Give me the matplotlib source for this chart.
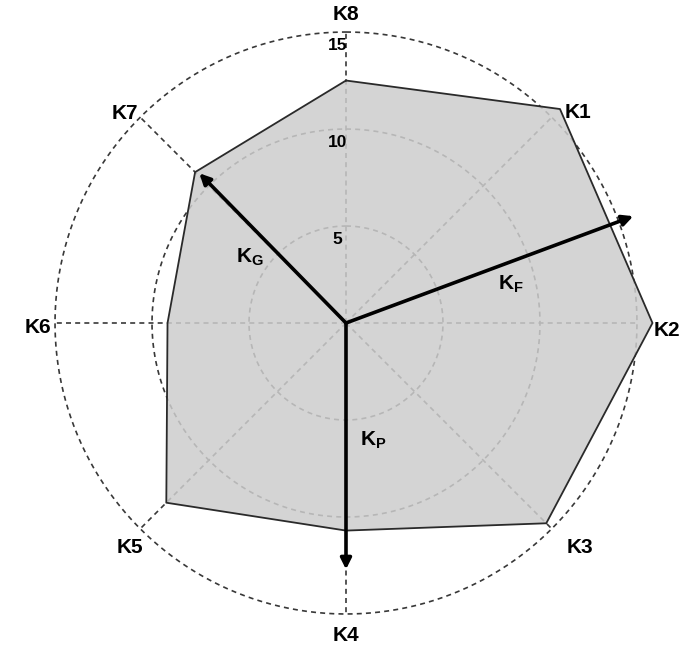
import numpy as np
import matplotlib as mpl
import matplotlib.pyplot as plt

mpl.rcParams['font.family'] = ['Liberation Sans', 'DejaVu Sans']
mpl.rcParams['font.weight'] = 'bold'
mpl.rcParams['mathtext.fontset'] = 'custom'
mpl.rcParams['mathtext.rm'] = 'Liberation Sans:bold'
mpl.rcParams['mathtext.it'] = 'Liberation Sans:bold'
mpl.rcParams['hatch.linewidth'] = 0.5
mpl.rcParams['hatch.color'] = '#a6a6a6'

# criteria around the circle, clockwise from the top
criteria = ['K8', 'K1', 'K2', 'K3', 'K4', 'K5', 'K6', 'K7']
scores = [12.5, 15.6, 15.8, 14.6, 10.7, 13.1, 9.2, 11.0]
rings = [5, 10, 15]

# resultant vectors: name, direction (deg, clockwise from K8), magnitude
vec_names = [r'K$_{\mathrm{F}}$', r'K$_{\mathrm{G}}$', r'K$_{\mathrm{P}}$']
vec_angles = [69.6, 315.6, 180.0]
vec_lengths = [15.8, 10.8, 12.7]
# where each vector name sits (deg, radius)
vec_label_pos = [(76.9, 8.7), (304.5, 6.0), (167.0, 6.2)]

angles = np.deg2rad(np.arange(len(criteria)) * 45.0)

fig = plt.figure(figsize=(6.85, 6.55), dpi=100)
ax = fig.add_axes([0.0803, 0.0626, 0.8496, 0.8885], projection='polar')
ax.set_theta_zero_location('N')
ax.set_theta_direction(-1)
ax.set_ylim(0, 15)
ax.set_axis_off()

grid_style = dict(color='#383838', lw=1.2, ls=(0, (3, 2.5)), zorder=1, clip_on=False)
circ = np.linspace(0, 2 * np.pi, 400)
for r in rings:
    ax.plot(circ, np.full_like(circ, r), **grid_style)
for a in angles:
    ax.plot([a, a], [0, rings[-1]], **grid_style)

# score polygon
poly_t = np.append(angles, angles[0])
poly_r = np.append(scores, scores[0])
ax.fill(poly_t, poly_r, facecolor='#cdcdcd', alpha=0.85, hatch='++++',
        edgecolor='none', zorder=2, clip_on=False)
ax.plot(poly_t, poly_r, color='#2a2a2a', lw=1.3, zorder=3, clip_on=False)

# ring values
for r in rings:
    ax.annotate(str(r), xy=(0, r), xytext=(-6, -10), textcoords='offset points',
                ha='center', va='center', fontsize=12.5, fontweight='bold',
                zorder=5, annotation_clip=False)

# criterion names, nudged (in pixels) off the outer ring
label_nudge = {
    'K8': (0, 18), 'K1': (26, 5), 'K2': (30, -7), 'K3': (28, -19),
    'K4': (0, -22), 'K5': (-10, -19), 'K6': (-17, -4), 'K7': (-15, 4),
}
for name, a in zip(criteria, angles):
    ax.annotate(name, xy=(a, rings[-1]), xytext=label_nudge[name],
                textcoords='offset pixels', ha='center', va='center',
                fontsize=15, fontweight='bold', zorder=5, annotation_clip=False)

# vectors
for name, ang, length, (lt, lr) in zip(vec_names, vec_angles, vec_lengths, vec_label_pos):
    ax.annotate('', xy=(np.deg2rad(ang), length), xytext=(0, 0),
                arrowprops=dict(arrowstyle='-|>', color='black', lw=2.6,
                                mutation_scale=16, shrinkA=0, shrinkB=0),
                zorder=4, annotation_clip=False)
    ax.text(np.deg2rad(lt), lr, name, ha='center', va='center', fontsize=15,
            fontweight='bold', zorder=5)

fig.savefig('out.png', dpi=100, facecolor='white')
